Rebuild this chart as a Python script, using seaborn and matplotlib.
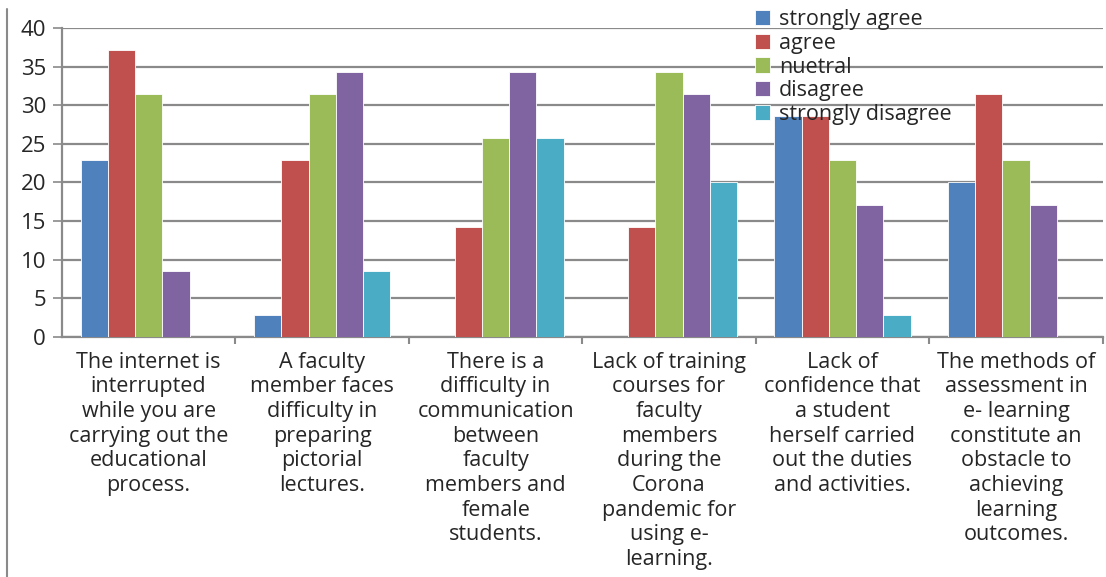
import pandas as pd
import seaborn as sns
import matplotlib.pyplot as plt
from matplotlib.lines import Line2D

# survey answers, percent of respondents
statements = [
    "The internet is\ninterrupted\nwhile you are\ncarrying out the\neducational\nprocess.",
    "A faculty\nmember faces\ndifficulty in\npreparing\npictorial\nlectures.",
    "There is a\ndifficulty in\ncommunication\nbetween\nfaculty\nmembers and\nfemale\nstudents.",
    "Lack of training\ncourses for\nfaculty\nmembers\nduring the\nCorona\npandemic for\nusing e-\nlearning.",
    "Lack of\nconfidence that\na student\nherself carried\nout the duties\nand activities.",
    "The methods of\nassessment in\ne- learning\nconstitute an\nobstacle to\nachieving\nlearning\noutcomes.",
]
answers = ["strongly agree", "agree", "nuetral", "disagree", "strongly disagree"]
strongly_agree = [22.86, 2.86, 0, 0, 28.57, 20.0]
agree = [37.14, 22.86, 14.29, 14.29, 28.57, 31.43]
neutral = [31.43, 31.43, 25.71, 34.29, 22.86, 22.86]
disagree = [8.57, 34.29, 34.29, 31.43, 17.14, 17.14]
strongly_disagree = [0, 8.57, 25.71, 20.0, 2.86, 0]
colors = ["#4F81BD", "#C0504D", "#9BBB59", "#8064A2", "#4BACC6"]

series = [strongly_agree, agree, neutral, disagree, strongly_disagree]
rows = []
for ans, vals in zip(answers, series):
    for st, v in zip(statements, vals):
        rows.append({"statement": st, "answer": ans, "percent": v})
df = pd.DataFrame(rows)

sns.set_style("white")
plt.rcParams['font.family'] = ['Open Sans', 'DejaVu Sans']

fig, ax = plt.subplots(figsize=(11.06, 5.77), dpi=100)
fig.subplots_adjust(left=0.056, right=0.997, top=0.9515, bottom=0.416)

sns.barplot(data=df, x="statement", y="percent", hue="answer", order=statements,
            hue_order=answers, palette=colors, saturation=1, width=0.785, gap=0,
            edgecolor="white", linewidth=0.6, ax=ax, zorder=3)

ax.set_ylim(0, 40)
ax.set_xlim(-0.5, 5.5)
ax.set_yticks(range(0, 41, 5))
ax.yaxis.grid(True, color="#8a8a8a", linewidth=1.6, zorder=0)
ax.set_axisbelow(True)
ax.set_xlabel("")
ax.set_ylabel("")

for s in ["top", "right"]:
    ax.spines[s].set_visible(False)
for s in ["left", "bottom"]:
    ax.spines[s].set_color("#8a8a8a")
    ax.spines[s].set_linewidth(1.6)

ax.tick_params(axis="y", left=True, length=6.5, width=1.2, color="#8a8a8a",
               pad=5, labelsize=16)
# category separators below the axis, as in Excel
ax.set_xticks([i - 0.5 for i in range(1, 7)], minor=True)
ax.tick_params(axis="x", which="minor", bottom=True, length=5, width=1.5,
               color="#8a8a8a")
ax.tick_params(axis="x", which="major", bottom=False, pad=7)
ax.set_xticks(range(6))
ax.set_xticklabels(statements, fontsize=15.5, linespacing=1.23, va="top")

ax.legend(loc="upper left", bbox_to_anchor=(0.656, 1.095), frameon=False,
          fontsize=15.5, handlelength=0.7, handleheight=0.7, handletextpad=0.4,
          labelspacing=0.12, borderpad=0)

# thin border line at the left edge of the chart area
fig.add_artist(Line2D([0.0065, 0.0065], [0.0, 0.985], color="#8a8a8a",
                      linewidth=1.5, transform=fig.transFigure))

plt.savefig("out.png", dpi=100)
